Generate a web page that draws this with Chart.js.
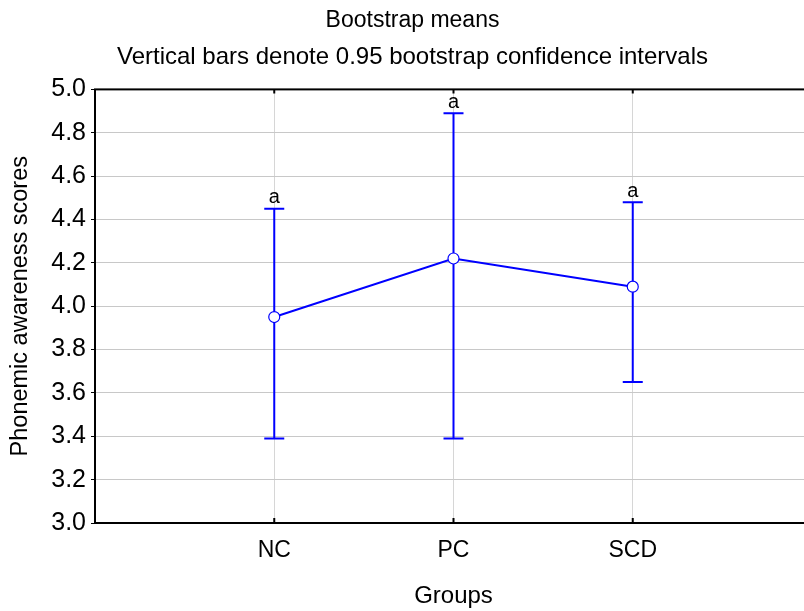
<!DOCTYPE html>
<html lang="en">
<head>
    <meta charset="UTF-8">
    <title>Bootstrap means</title>
    <style>
        html, body {
            margin: 0;
            padding: 0;
            overflow: hidden;
            background: #fff;
        }
        #wrap {
            width: 826px;
            height: 611px;
        }
    </style>
</head>
<body>
    <div id="wrap"><canvas id="chart" width="826" height="611"></canvas></div>
    <script src="https://cdn.jsdelivr.net/npm/chart.js"></script>
    <script>
        // data
        const groups = ['NC', 'PC', 'SCD'];
        const means = [3.95, 4.22, 4.09];
        const lower = [3.39, 3.39, 3.65];
        const upper = [4.45, 4.89, 4.48];
        const letters = ['a', 'a', 'a'];
        const yMin = 3.0, yMax = 5.0, yStep = 0.2;

        const FONT = "'Liberation Sans', Arial, sans-serif";
        const BLUE = '#0000ff';

        const errorBars = {
            id: 'errorBars',
            beforeDatasetsDraw(chart) {
                const { ctx, scales: { x, y } } = chart;
                ctx.save();
                ctx.strokeStyle = BLUE;
                ctx.lineWidth = 2;
                groups.forEach((g, i) => {
                    const px = x.getPixelForValue(i + 1);
                    const top = y.getPixelForValue(upper[i]);
                    const bot = y.getPixelForValue(lower[i]);
                    ctx.beginPath();
                    ctx.moveTo(px, top);
                    ctx.lineTo(px, bot);
                    ctx.moveTo(px - 10, top);
                    ctx.lineTo(px + 10, top);
                    ctx.moveTo(px - 10, bot);
                    ctx.lineTo(px + 10, bot);
                    ctx.stroke();
                });
                ctx.restore();
            },
            afterDraw(chart) {
                const { ctx, chartArea: a, scales: { x, y } } = chart;
                ctx.save();
                // letters above the upper caps
                ctx.fillStyle = '#000';
                ctx.font = '20px ' + FONT;
                ctx.textAlign = 'center';
                ctx.textBaseline = 'bottom';
                groups.forEach((g, i) => {
                    ctx.fillText(letters[i], x.getPixelForValue(i + 1), y.getPixelForValue(upper[i]) - 1);
                });
                // frame
                ctx.strokeStyle = '#000';
                ctx.lineWidth = 2;
                ctx.strokeRect(a.left, a.top, a.right - a.left, a.bottom - a.top);
                // inner ticks on top and bottom at the groups
                ctx.beginPath();
                groups.forEach((g, i) => {
                    const px = x.getPixelForValue(i + 1);
                    ctx.moveTo(px, a.bottom);
                    ctx.lineTo(px, a.bottom - 5);
                    ctx.moveTo(px, a.top);
                    ctx.lineTo(px, a.top + 4);
                });
                ctx.stroke();
                ctx.restore();
            }
        };

        const ctx = document.getElementById('chart').getContext('2d');
        const chart = new Chart(ctx, {
            type: 'line',
            data: {
                datasets: [{
                    label: 'Means',
                    data: groups.map((g, i) => ({ x: i + 1, y: means[i] })),
                    borderColor: BLUE,
                    borderWidth: 2,
                    backgroundColor: '#fff',
                    pointBackgroundColor: '#fff',
                    pointBorderColor: BLUE,
                    pointBorderWidth: 1.2,
                    pointRadius: 5.5,
                    tension: 0
                }]
            },
            options: {
                responsive: false,
                animation: false,
                layout: { padding: { left: 0, right: 1, top: 0, bottom: 0 } },
                plugins: {
                    legend: { display: false },
                    tooltip: { enabled: false },
                    title: {
                        display: true,
                        text: 'Bootstrap means',
                        color: '#000',
                        font: { family: FONT, size: 23, weight: 'normal' },
                        padding: { top: 7, bottom: 8 }
                    },
                    subtitle: {
                        display: true,
                        text: 'Vertical bars denote 0.95 bootstrap confidence intervals',
                        color: '#000',
                        font: { family: FONT, size: 24, weight: 'normal' },
                        padding: { top: 0, bottom: 18 }
                    }
                },
                scales: {
                    x: {
                        type: 'linear',
                        min: 0,
                        max: groups.length + 1,
                        afterBuildTicks(scale) {
                            scale.ticks = [0, 1, 2, 3, 4].map(v => ({ value: v }));
                        },
                        afterFit(scale) { scale.height = 88; },
                        ticks: {
                            color: '#000',
                            font: { family: FONT, size: 23 },
                            padding: 14,
                            autoSkip: false,
                            maxRotation: 0,
                            callback: v => groups[v - 1] || ''
                        },
                        grid: {
                            drawTicks: false,
                            color: ctx => (ctx.tick && ctx.tick.value > 0 && ctx.tick.value <= groups.length) ? '#d6d6d6' : 'rgba(0,0,0,0)'
                        },
                        border: { display: false },
                        title: {
                            display: true,
                            text: 'Groups',
                            color: '#000',
                            font: { family: FONT, size: 24 },
                            padding: { top: 0, bottom: 0 }
                        }
                    },
                    y: {
                        min: yMin,
                        max: yMax,
                        afterFit(scale) { scale.width = 95; },
                        ticks: {
                            stepSize: yStep,
                            color: '#000',
                            font: { family: FONT, size: 25 },
                            padding: 5,
                            callback: v => v.toFixed(1)
                        },
                        grid: {
                            color: '#c8c8c8',
                            tickColor: '#000',
                            tickLength: 4
                        },
                        border: { display: false },
                        title: {
                            display: true,
                            text: 'Phonemic awareness scores',
                            color: '#000',
                            font: { family: FONT, size: 23.5 },
                            padding: { top: 6, bottom: 0 }
                        }
                    }
                }
            },
            plugins: [errorBars]
        });
    </script>
</body>
</html>
